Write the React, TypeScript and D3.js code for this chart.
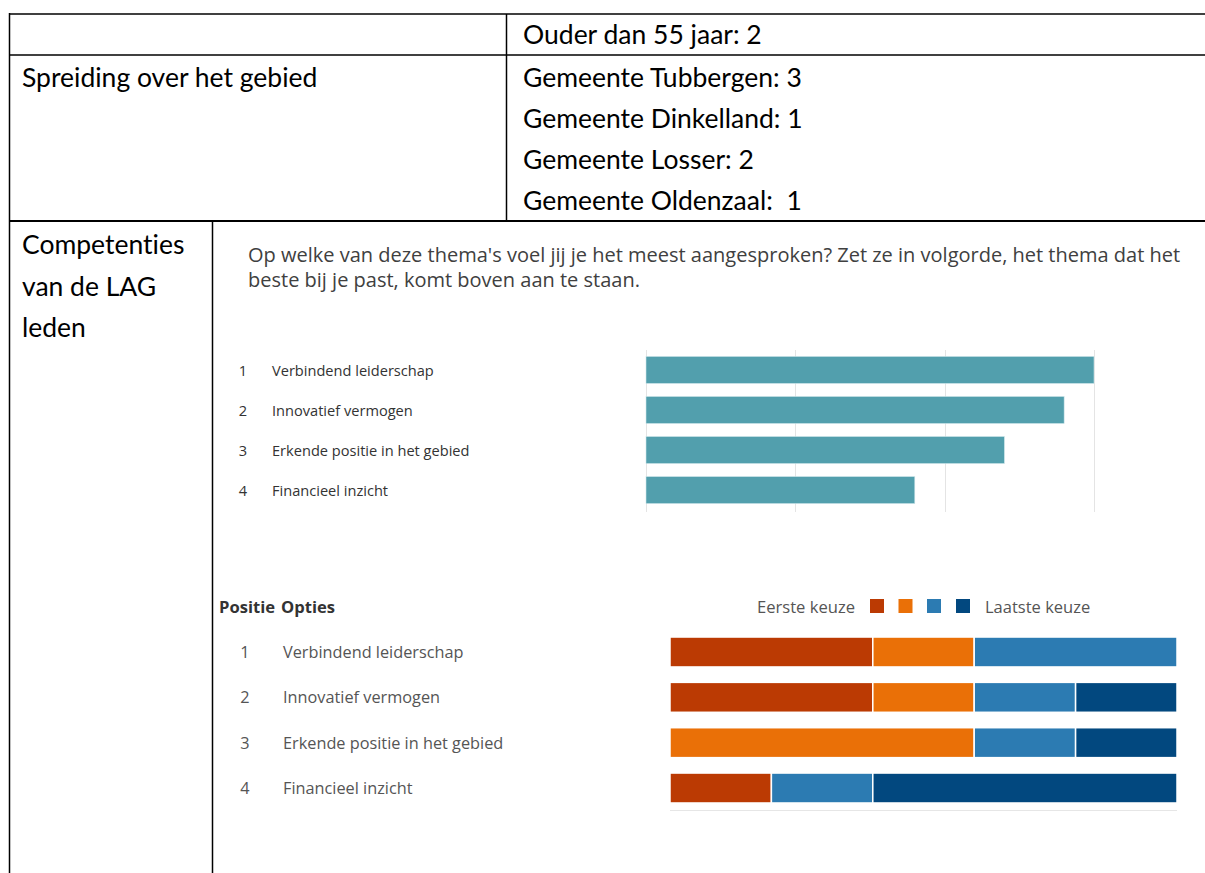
import React from 'react';
import * as d3 from 'd3';

// table text
const ageRow = 'Ouder dan 55 jaar: 2';
const spreadLabel = 'Spreiding over het gebied';
const gemeenten = ['Gemeente Tubbergen: 3', 'Gemeente Dinkelland: 1', 'Gemeente Losser: 2', 'Gemeente Oldenzaal:  1'];
const compLabel = ['Competenties', 'van de LAG', 'leden'];

// survey question
const titleLines = [
  "Op welke van deze thema's voel jij je het meest aangesproken? Zet ze in volgorde, het thema dat het",
  'beste bij je past, komt boven aan te staan.',
];
const options = ['Verbindend leiderschap', 'Innovatief vermogen', 'Erkende positie in het gebied', 'Financieel inzicht'];
// average ranking score per option
const scores = [3.0, 2.8, 2.4, 1.8];
const scoreTicks = [0, 1, 2, 3];

// number of respondents per rank (first .. last choice)
const rankKeys = ['r1', 'r2', 'r3', 'r4'];
const rank1 = [2, 2, 0, 1];
const rank2 = [1, 1, 3, 0];
const rank3 = [2, 1, 1, 1];
const rank4 = [0, 1, 1, 3];
const rankColors = ['#bb3a03', '#ea7007', '#2c7bb2', '#02487f'];
const legendFirst = 'Eerste keuze';
const legendLast = 'Laatste keuze';

const tableFont = 'Lato, "Liberation Sans", sans-serif';
const chartFont = '"Open Sans", "Noto Sans", sans-serif';

const App = () => {
  // --- chart 1 : average score
  const x1 = d3.scaleLinear().domain([0, 3]).range([646, 1094]);
  const y1 = d3.scaleBand().domain(options).range([350, 510]).paddingInner(0.325).paddingOuter(0.16);

  // --- chart 2 : stacked ranking
  const rows = options.map((o, i) => ({ option: o, r1: rank1[i], r2: rank2[i], r3: rank3[i], r4: rank4[i] }));
  const stacked = d3.stack().keys(rankKeys)(rows as any);
  const total = d3.max(rows, (d) => d.r1 + d.r2 + d.r3 + d.r4) as number;
  const x2 = d3.scaleLinear().domain([0, total]).range([670, 1177]);
  const y2 = d3.scaleBand().domain(options).range([630, 810]).paddingInner(0.34).paddingOuter(0.155);
  const color = d3.scaleOrdinal<string>().domain(rankKeys).range(rankColors);

  const legendX = [870, 898.5, 927, 956];

  return (
    <svg width={1205} height={873} style={{ position: 'absolute', left: 0, top: 0, background: '#fff' }}>
      {/* table borders */}
      <g stroke="#000" fill="none">
        <line x1={9} x2={1205} y1={14} y2={14} strokeWidth={1.5} />
        <line x1={9} x2={1205} y1={55} y2={55} strokeWidth={1.5} />
        <line x1={9} x2={1205} y1={221} y2={221} strokeWidth={2} />
        <line x1={9.5} x2={9.5} y1={13} y2={873} strokeWidth={1.5} />
        <line x1={506.5} x2={506.5} y1={14} y2={221} strokeWidth={1.5} />
        <line x1={212.5} x2={212.5} y1={221} y2={873} strokeWidth={1.5} />
      </g>

      {/* table text */}
      <g fontFamily={tableFont} fontSize={26.5} fill="#000" dominantBaseline="central"
        style={{ fontVariantLigatures: 'none' }}>
        <text x={523} y={34}>{ageRow}</text>
        <text x={22} y={77}>{spreadLabel}</text>
        {gemeenten.map((g, i) => (
          <text key={g} x={523} y={77 + i * 41} xmlSpace="preserve">{g}</text>
        ))}
        {compLabel.map((c, i) => (
          <text key={c} x={22} y={244 + i * 41.5}>{c}</text>
        ))}
      </g>

      {/* chart 1 title */}
      <g fontFamily={chartFont} fontSize={20} fill="#404040" dominantBaseline="central">
        {titleLines.map((t, i) => (
          <text key={i} x={248} y={254 + i * 25}>{t}</text>
        ))}
      </g>

      {/* chart 1 grid */}
      <g stroke="#e4e4e4" strokeWidth={1}>
        {scoreTicks.map((t) => (
          <line key={t} x1={Math.round(x1(t)) + 0.5} x2={Math.round(x1(t)) + 0.5} y1={350} y2={512} />
        ))}
      </g>

      {/* chart 1 bars */}
      <g>
        {options.map((o, i) => (
          <rect key={o} x={x1(0)} y={y1(o)} width={x1(scores[i]) - x1(0)} height={y1.bandwidth()}
            fill="#529fad" stroke="#cfe6ea" strokeWidth={0.6} />
        ))}
      </g>

      {/* chart 1 labels */}
      <g fontFamily={chartFont} fontSize={14.6} fill="#333" dominantBaseline="central">
        {options.map((o, i) => (
          <g key={o} transform={`translate(0,${(y1(o) as number) + y1.bandwidth() / 2})`}>
            <text x={243} textAnchor="middle">{i + 1}</text>
            <text x={272}>{o}</text>
          </g>
        ))}
      </g>

      {/* chart 2 header + legend */}
      <g fontFamily={chartFont} dominantBaseline="central">
        <text x={219} y={606} fontSize={16.6} fontWeight="bold" fill="#333">Positie</text>
        <text x={281} y={606} fontSize={16.6} fontWeight="bold" fill="#333">Opties</text>
        <text x={855} y={606} fontSize={16.6} fill="#555" textAnchor="end">{legendFirst}</text>
        {rankKeys.map((k, i) => (
          <rect key={k} x={legendX[i]} y={599} width={14} height={14} fill={color(k)} />
        ))}
        <text x={985} y={606} fontSize={16.5} fill="#555">{legendLast}</text>
      </g>

      {/* chart 2 stacked bars */}
      <g>
        {stacked.map((layer) => (
          <g key={layer.key} fill={color(layer.key)}>
            {layer.map((d: any) => (
              d[1] > d[0] ? (
                <rect key={d.data.option} x={x2(d[0])} y={y2(d.data.option)} width={x2(d[1]) - x2(d[0])}
                  height={y2.bandwidth()} stroke="#fff" strokeWidth={1.5} />
              ) : null
            ))}
          </g>
        ))}
      </g>
      <line x1={670} x2={1177} y1={810.5} y2={810.5} stroke="#e6e6e6" />

      {/* chart 2 labels */}
      <g fontFamily={chartFont} fontSize={16.3} fill="#555" dominantBaseline="central">
        {options.map((o, i) => (
          <g key={o} transform={`translate(0,${(y2(o) as number) + y2.bandwidth() / 2})`}>
            <text x={245} textAnchor="middle">{i + 1}</text>
            <text x={283}>{o}</text>
          </g>
        ))}
      </g>
    </svg>
  );
};

export default App;
